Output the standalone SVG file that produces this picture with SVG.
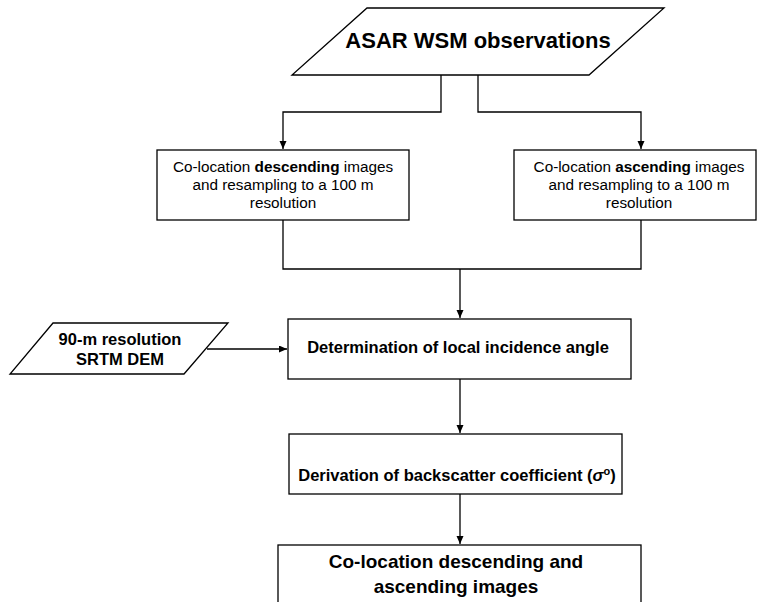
<svg xmlns="http://www.w3.org/2000/svg" width="757" height="602" viewBox="0 0 757 602">
<style>
.shape{fill:#fff;stroke:#000;stroke-width:1.3}
.conn{fill:none;stroke:#000;stroke-width:1.3}
text{font-family:"Liberation Sans",Arial,sans-serif;fill:#000;text-anchor:middle}
.b{font-weight:bold}
.n{font-size:15.3px}
.m{font-size:16.5px;font-weight:bold}
</style>
<defs>
<marker id="arr" markerWidth="9" markerHeight="8" refX="8" refY="3.5" orient="auto" markerUnits="userSpaceOnUse">
<path d="M0,0 L8,3.5 L0,7 z" fill="#000"/>
</marker>
</defs>
<rect width="757" height="602" fill="#fff"/>
<g id="connectors">
<path class="conn" d="M441,75 V112 H283 V149" marker-end="url(#arr)"/>
<path class="conn" d="M478,75 V112 H641 V149" marker-end="url(#arr)"/>
<path class="conn" d="M283,220 V269 H641 V220"/>
<path class="conn" d="M460,269 V318" marker-end="url(#arr)"/>
<path class="conn" d="M207,349 H287" marker-end="url(#arr)"/>
<path class="conn" d="M460,379 V433" marker-end="url(#arr)"/>
<path class="conn" d="M460,494 V544" marker-end="url(#arr)"/>
</g>
<g id="asar">
<polygon class="shape" points="367,8 664,8 589,75 292,75"/>
<text x="478" y="48" class="b" style="font-size:22px">ASAR WSM observations</text>
</g>
<g id="descending">
<rect class="shape" x="157" y="150" width="252" height="70"/>
<text class="n" x="283" y="172">Co-location <tspan class="b">descending</tspan> images</text>
<text class="n" x="283" y="190">and resampling to a 100 m</text>
<text class="n" x="283" y="208">resolution</text>
</g>
<g id="ascending">
<rect class="shape" x="514" y="150" width="242" height="70"/>
<text class="n" x="639" y="172">Co-location <tspan class="b">ascending</tspan> images</text>
<text class="n" x="639" y="190">and resampling to a 100 m</text>
<text class="n" x="639" y="208">resolution</text>
</g>
<g id="srtm">
<polygon class="shape" points="53,323 228,323 184,374 10,374"/>
<text class="m" x="120" y="345">90-m resolution</text>
<text class="m" x="120" y="365">SRTM DEM</text>
</g>
<g id="incidence">
<rect class="shape" x="288" y="319" width="343" height="60"/>
<text class="m" x="458" y="353">Determination of local incidence angle</text>
</g>
<g id="backscatter">
<rect class="shape" x="289" y="434" width="333" height="60"/>
<text class="m" x="457" y="481">Derivation of backscatter coefficient (<tspan font-style="italic">σ</tspan><tspan baseline-shift="super" font-size="11px">o</tspan>)</text>
</g>
<g id="colocation">
<rect class="shape" x="278" y="545" width="363" height="70"/>
<text class="b" x="456" y="568" style="font-size:19px">Co-location descending and</text>
<text class="b" x="456" y="593" style="font-size:19px">ascending images</text>
</g>
</svg>
